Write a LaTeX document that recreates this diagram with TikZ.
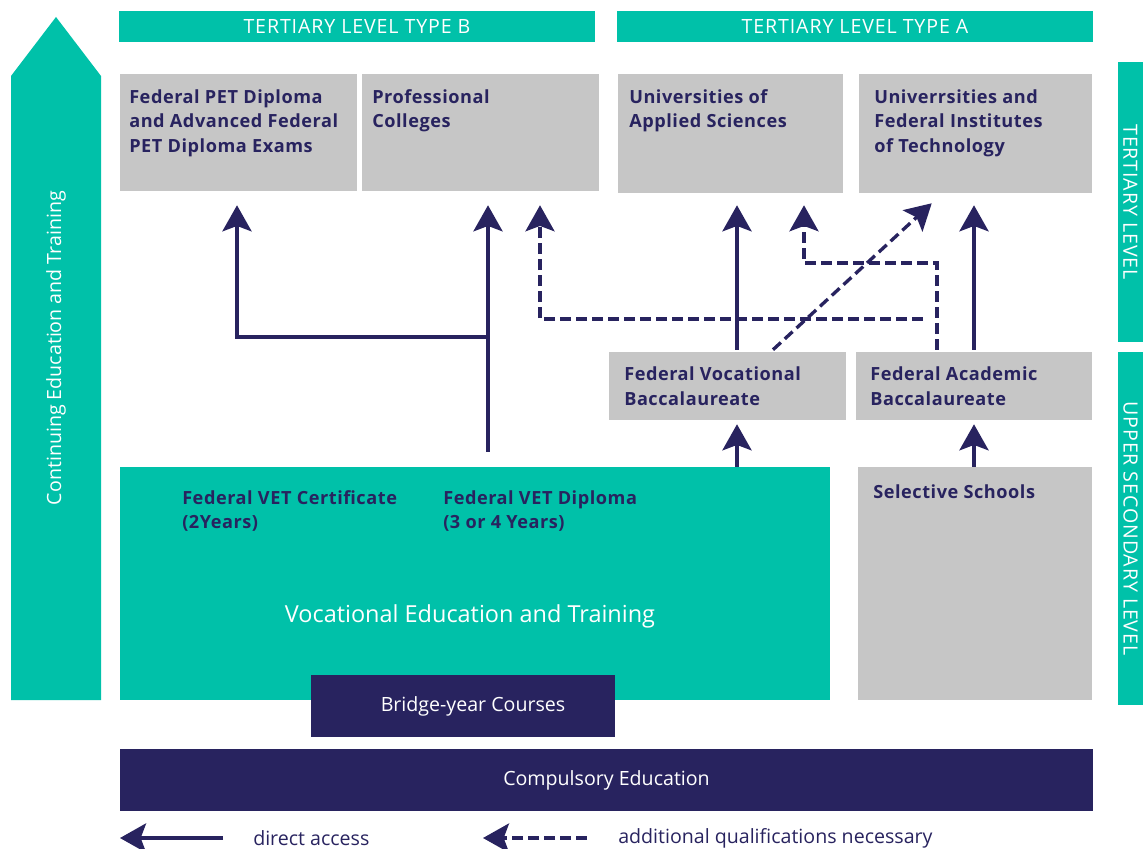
\documentclass[tikz,border=0pt]{standalone}
\usepackage{fontspec}
\setmainfont{Open Sans}
\newfontfamily\capsf{Open Sans}[LetterSpace=4.5]
\newfontfamily\boldf{Open Sans}[LetterSpace=3]
\usetikzlibrary{arrows.meta,calc}
\definecolor{teal1}{HTML}{00C1A9}
\definecolor{navy}{HTML}{28235F}
\definecolor{grey1}{HTML}{C6C6C6}
\begin{document}
\begin{tikzpicture}[x=0.75pt,y=-0.75pt,
  greybox/.style={fill=grey1, inner sep=0pt, draw=none},
  tealbox/.style={fill=teal1, inner sep=0pt, draw=none},
  navybox/.style={fill=navy, inner sep=0pt, draw=none, text=white, font=\fontsize{14.7}{17}\selectfont},
  boxtxt/.style={font=\boldf\fontsize{13.6}{18.4}\selectfont\bfseries, text=navy, align=left, inner sep=0pt, anchor=north west},
  whitetxt/.style={font=\fontsize{14.7}{17}\selectfont, text=white, inner sep=0pt},
  capstxt/.style={font=\capsf\fontsize{14.7}{17}\selectfont, text=white, inner sep=0pt},
  legtxt/.style={font=\fontsize{14.7}{17}\selectfont, text=navy, inner sep=0pt, anchor=west},
  direct/.style={draw=navy, line width=3pt, -{Stealth[length=19.5pt, width=21.75pt, inset=4pt]}},
  addl/.style={direct, line width=2.5pt, dash pattern=on 8pt off 4pt}
]
\useasboundingbox (0,0) rectangle (1143,849);

% big left arrow
\fill[teal1] (11,700) -- (11,76) -- (56,17) -- (101,76) -- (101,700) -- cycle;
\node[whitetxt, rotate=90] (cet) at (56,348) {Continuing Education and Training};

% banners
\node[tealbox, minimum width=357pt, minimum height=23.25pt] (tB) at (357,26.5) {};
\node[capstxt] (tBt) at (tB) {TERTIARY LEVEL TYPE B};
\node[tealbox, minimum width=357pt, minimum height=23.25pt] (tA) at (855,26.5) {};
\node[capstxt] (tAt) at (tA) {TERTIARY LEVEL TYPE A};

% side bars
\node[tealbox, minimum width=18.75pt, minimum height=210pt] (sT) at (1130.5,202) {};
\node[capstxt, rotate=-90] (sTt) at (sT) {TERTIARY LEVEL};
\node[tealbox, minimum width=18.75pt, minimum height=264.75pt] (sU) at (1130.5,528.5) {};
\node[capstxt, rotate=-90] (sUt) at (sU) {UPPER SECONDARY LEVEL};

% tertiary boxes
\node[greybox, minimum width=177.75pt, minimum height=87.75pt] (b1) at (238.5,132.5) {};
\node[greybox, minimum width=177.75pt, minimum height=87.75pt] (b2) at (480.5,132.5) {};
\node[greybox, minimum width=168.75pt, minimum height=89.25pt] (b3) at (730.5,133.5) {};
\node[greybox, minimum width=174.75pt, minimum height=89.25pt] (b4) at (975.5,133.5) {};
\node[boxtxt] (b1t) at (129,89) {Federal PET Diploma\\and Advanced Federal\\PET Diploma Exams};
\node[boxtxt] (b2t) at (372,89) {Professional\\Colleges};
\node[boxtxt] (b3t) at (629,89) {Universities of\\Applied Sciences};
\node[boxtxt] (b4t) at (874,89) {Univerrsities and\\Federal Institutes\\of Technology};

% baccalaureates
\node[greybox, minimum width=177.75pt, minimum height=51pt] (vb) at (727.5,386) {};
\node[greybox, minimum width=177pt, minimum height=51pt] (ab) at (974,386) {};
\node[boxtxt] (vbt) at (624,366.5) {Federal Vocational\\Baccalaureate};
\node[boxtxt] (abt) at (870,366.5) {Federal Academic\\Baccalaureate};

% upper secondary
\node[tealbox, minimum width=532.5pt, minimum height=174.75pt] (vet) at (475,583.5) {};
\node[boxtxt] (cert) at (182,490) {Federal VET Certificate\\(2Years)};
\node[boxtxt] (dipl) at (443,490) {Federal VET Diploma\\(3 or 4 Years)};
\node[whitetxt, font=\fontsize{17.6}{20}\selectfont] (vett) at (470,616) {Vocational Education and Training};
\node[greybox, minimum width=175.5pt, minimum height=174.75pt] (sel) at (975,583.5) {};
\node[boxtxt] (selt) at (873,484) {Selective Schools};

% arrows
\coordinate (j1) at (488,337);
\coordinate (d1) at (923,319);
\coordinate (c540) at (540,0);
\coordinate (c937) at (937,0);
\coordinate (e1) at (804,263);
\coordinate (c737) at (737,0);
\coordinate (c773) at (773,0);
\coordinate (c974) at (974,0);

\draw[direct] ($(vet.north -| j1)+(0,-15)$) -- ($(b2.south -| j1)+(0,14)$);
\draw[direct] (j1) -| ($(b1.south)+(-1.5,14)$);
\draw[addl] (d1) -| ($(b2.south -| c540)+(0,14)$);
\draw[addl] ($(ab.north -| c937)+(0,-2)$) |- (e1) -- ($(b3.south -| e1)+(0,12)$);
\draw[direct] ($(vb.north -| c737)+(0,-2)$) -- ($(b3.south -| c737)+(0,12)$);
\draw[addl] ($(vb.north -| c773)+(0,-2)$) -- ($(b4.south west)+(73,10)$);
\draw[direct] ($(ab.north -| c974)+(0,-2)$) -- ($(b4.south -| c974)+(0,12)$);
\draw[direct] (vet.north -| c737) -- ($(vb.south -| c737)+(0,4)$);
\draw[direct] (sel.north -| c974) -- ($(ab.south -| c974)+(0,4)$);

% bridge and compulsory
\node[navybox, minimum width=228pt, minimum height=46.5pt] (bridge) at (463,706) {\hspace*{15pt}Bridge-year Courses};
\node[navybox, minimum width=729.75pt, minimum height=46.5pt] (comp) at (606.5,780) {Compulsory Education};

% legend
\coordinate (l1) at (223,838);
\coordinate (l2) at (120,838);
\coordinate (l3) at (587,838);
\coordinate (l4) at (483,838);
\draw[direct] (l1) -- (l2);
\node[legtxt] (lt1) at (253,838) {direct access};
\draw[addl] (l3) -- (l4);
\node[legtxt] (lt2) at (618,838) {additional qualifications necessary};
\end{tikzpicture}
\end{document}
